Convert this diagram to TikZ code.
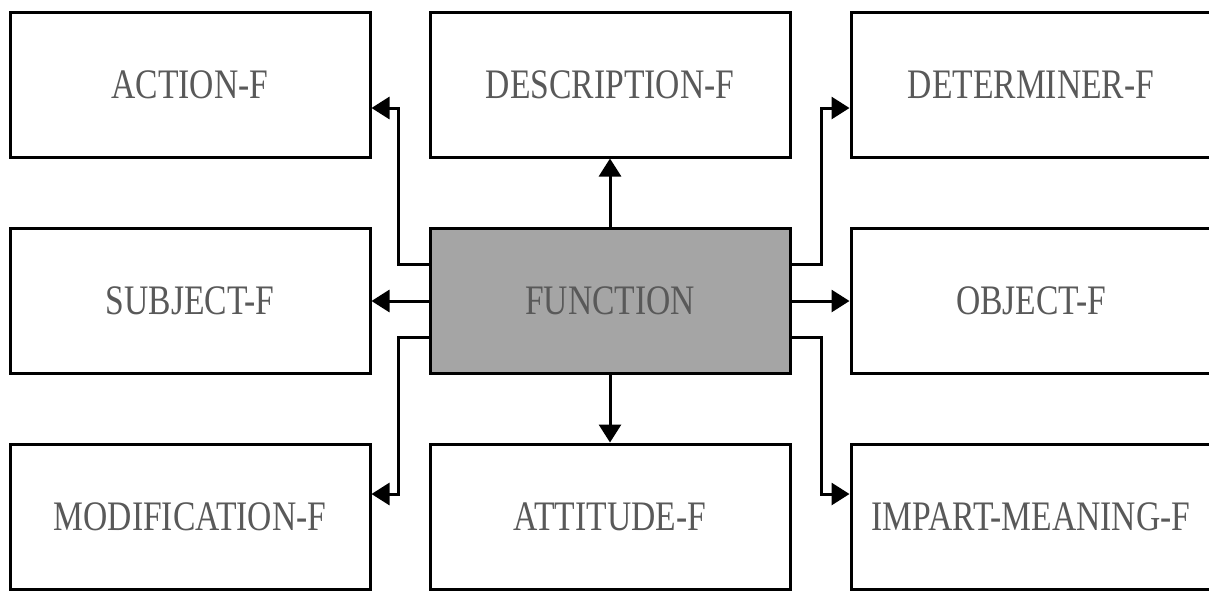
\documentclass[tikz,border=0pt]{standalone}
\usepackage{fontspec}
\setmainfont[FakeStretch=0.8]{Liberation Serif}
\usetikzlibrary{arrows.meta}
\definecolor{txtgray}{RGB}{89,89,89}
\definecolor{fngray}{RGB}{165,165,165}
\tikzset{
  box/.style={draw=black, line width=3pt, rectangle, minimum width=360pt, minimum height=145pt,
    inner sep=0pt, text=txtgray, font=\fontsize{42}{42}\selectfont, fill=white},
  fnbox/.style={box, fill=fngray},
  arr/.style={line width=3pt, -{Triangle[length=18pt,width=22pt]}}
}
\begin{document}
\begin{tikzpicture}[x=1pt,y=-1pt]
\useasboundingbox (0,0) rectangle (1209,590);
\node[box] (act) at (190,84.5) {ACTION-F};
\node[box] (desc) at (610,84.5) {DESCRIPTION-F};
\node[box] (det) at (1031,84.5) {DETERMINER-F};
\node[box] (sub) at (190,301) {SUBJECT-F};
\node[fnbox] (fn) at (610,301) {FUNCTION};
\node[box] (obj) at (1031,301) {OBJECT-F};
\node[box] (mod) at (190,516.5) {MODIFICATION-F};
\node[box] (att) at (610,516.5) {ATTITUDE-F};
\node[box] (imp) at (1031,516.5) {IMPART-MEANING-F};
\draw[arr] ([yshift=37pt]fn.west) -- ++(-30,0) |- ([yshift=-23.5pt]act.east);
\draw[arr] (fn.west) -- (sub.east);
\draw[arr] ([yshift=-36pt]fn.west) -- ++(-30,0) |- ([yshift=22.5pt]mod.east);
\draw[arr] (fn.north) -- (desc.south);
\draw[arr] (fn.south) -- (att.north);
\draw[arr] ([yshift=37pt]fn.east) -- ++(30,0) |- ([yshift=-23.5pt]det.west);
\draw[arr] (fn.east) -- (obj.west);
\draw[arr] ([yshift=-36pt]fn.east) -- ++(30,0) |- ([yshift=22.5pt]imp.west);
\end{tikzpicture}
\end{document}
